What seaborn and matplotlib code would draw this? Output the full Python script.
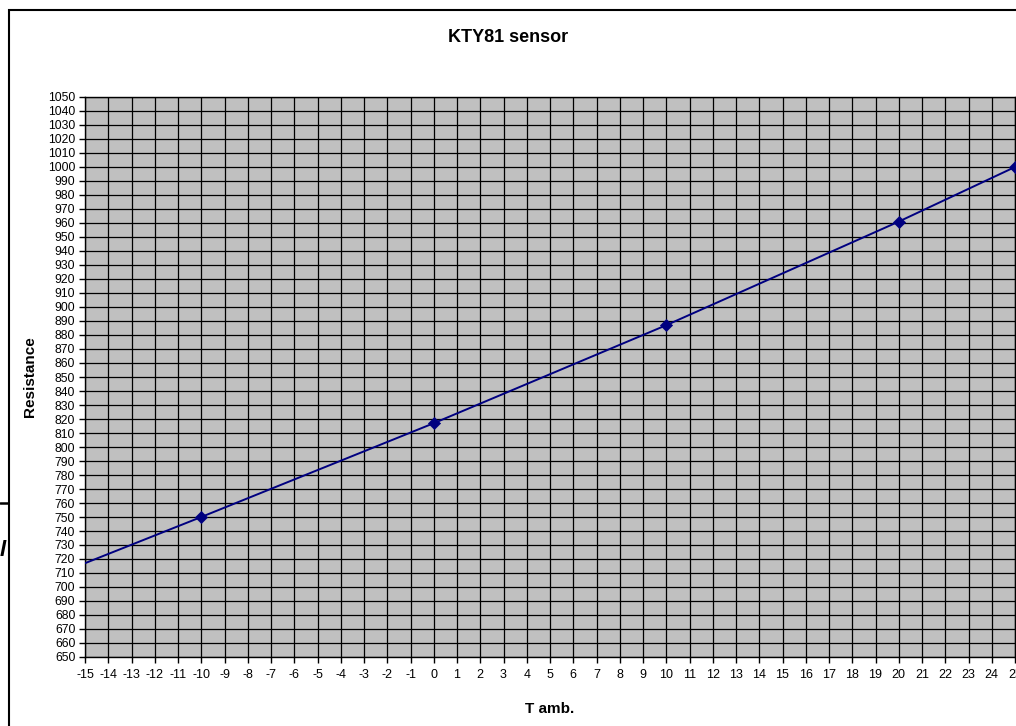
import numpy as np
import pandas as pd
import matplotlib
matplotlib.use("Agg")
import matplotlib.pyplot as plt
import seaborn as sns
from matplotlib.patches import Rectangle

# data
temps = [-20, -10, 0, 10, 20, 25]
resistance = [684, 750, 817, 887, 961, 1000]
x_ticks = list(range(-15, 26))
y_ticks = list(range(650, 1051, 10))

df = pd.DataFrame({"T": temps, "R": resistance})
visible = df[df["T"] >= -15]

sns.set_theme(style="white")
plt.rcParams['font.family'] = ['Liberation Sans', 'DejaVu Sans']
plt.rcParams['text.color'] = 'black'
plt.rcParams['axes.labelcolor'] = 'black'
plt.rcParams['xtick.color'] = 'black'
plt.rcParams['ytick.color'] = 'black'

fig = plt.figure(figsize=(10.16, 7.26), dpi=100)
W, H = 1016, 726
ax = fig.add_axes([85 / W, 1 - 657 / H, (1015 - 85) / W, (657 - 97) / H])
ax.set_facecolor("#C0C0C0")

sns.lineplot(data=df, x="T", y="R", ax=ax, color="#000080", linewidth=1.4, zorder=3)
sns.scatterplot(data=visible, x="T", y="R", ax=ax, color="#000080", marker="D",
                s=38, edgecolor="#000080", zorder=4, clip_on=False)

ax.set_xlim(-15, 25)
ax.set_ylim(650, 1050)
ax.set_xticks(x_ticks)
ax.set_yticks(y_ticks)
ax.set_xticklabels([str(v) for v in x_ticks], fontsize=9)
ax.set_yticklabels([str(v) for v in y_ticks], fontsize=8.8)
ax.grid(True, color="black", linewidth=0.9)
ax.set_axisbelow(True)
ax.tick_params(axis="both", direction="out", length=4, width=1, color="black",
               bottom=True, left=True, pad=3)
ax.tick_params(axis="x", pad=5)
for sp in ax.spines.values():
    sp.set_color("black")
    sp.set_linewidth(1)

ax.set_xlabel("T amb.", fontsize=11, fontweight="bold", labelpad=15, color="black")
ax.set_ylabel("Resistance", fontsize=11, fontweight="bold", labelpad=8, color="black")
fig.text(508 / W, 1 - 38 / H, "KTY81 sensor", ha="center", va="center",
         fontsize=13, fontweight="bold", color="black")

# outer chart frame
fig.patches.append(Rectangle((8.5 / W, -0.02), 1.05, 1 - 10 / H + 0.02,
                             transform=fig.transFigure, fill=False,
                             edgecolor="black", linewidth=1.5))
# fragments of the underlying page on the left edge
fig.lines.append(plt.Line2D([0, 8 / W], [1 - 503 / H, 1 - 503 / H],
                            transform=fig.transFigure, color="black", linewidth=1.8))
fig.text(0 / W, 1 - 550 / H, "l", ha="left", va="center", fontsize=16,
         fontweight="bold", fontstyle="italic", color="black")

fig.savefig("out.png", dpi=100)
